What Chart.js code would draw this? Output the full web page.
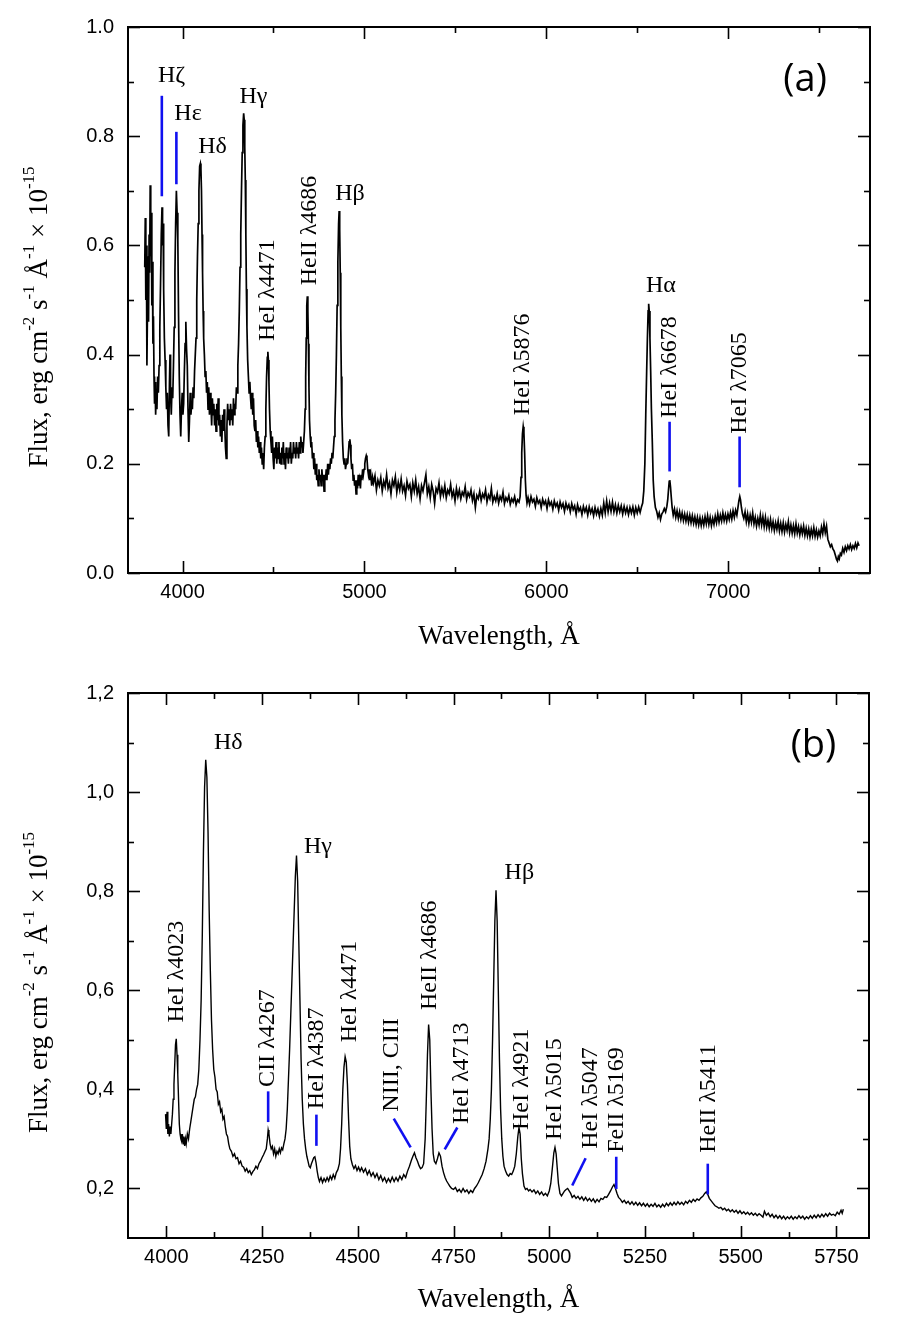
<!DOCTYPE html>
<html><head><meta charset="utf-8">
<script src="https://cdn.jsdelivr.net/npm/chart.js@4.4.1/dist/chart.umd.min.js"></script>
<style>
html,body{margin:0;padding:0;background:#fff;}
#wrap{position:relative;width:906px;height:1334px;background:#fff;}
canvas{position:absolute;left:0;}
#ca{top:0;}
#cb{top:667px;}
</style></head><body>
<div id="wrap"><canvas id="ca" width="906" height="667"></canvas><canvas id="cb" width="906" height="667"></canvas></div>
<script>
// ---------- DATA: panel (a) ----------
const spectrumA = [
[3792,0.56],[3795,0.65],[3798,0.50],[3801,0.60],[3804,0.38],[3807,0.48],[3810,0.58],[3813,0.46],[3816,0.62],[3819,0.55],[3822,0.71],[3825,0.58],[3828,0.66],[3831,0.49],[3834,0.57],[3837,0.42],[3840,0.47],[3843,0.36],[3846,0.31],[3849,0.35],[3852,0.29],[3855,0.33],[3859,0.30],[3863,0.36],[3867,0.33],[3871,0.38],[3875,0.45],[3879,0.53],[3883,0.62],[3887,0.67],[3890,0.60],[3893,0.64],[3896,0.52],[3900,0.43],[3904,0.39],[3908,0.34],[3912,0.30],[3916,0.33],[3920,0.27],[3924,0.25],[3928,0.35],[3931,0.40],[3934,0.33],[3938,0.29],[3942,0.34],[3946,0.32],[3950,0.38],[3954,0.45],[3958,0.55],[3962,0.64],[3966,0.70],[3970,0.66],[3974,0.61],[3978,0.47],[3982,0.36],[3986,0.29],[3990,0.25],[3994,0.30],[3998,0.33],[4002,0.29],[4006,0.31],[4010,0.37],[4014,0.42],[4018,0.46],[4022,0.41],[4026,0.38],[4030,0.30],[4034,0.24],[4038,0.28],[4042,0.33],[4046,0.29],[4050,0.31],[4054,0.30],[4058,0.34],[4062,0.32],[4066,0.37],[4070,0.40],[4074,0.43],[4078,0.50],[4082,0.58],[4086,0.64],[4090,0.70],[4094,0.745],[4098,0.75],[4101,0.74],[4104,0.70],[4107,0.62],[4110,0.55],[4113,0.48],[4116,0.43],[4120,0.40],[4124,0.36],[4128,0.37],[4132,0.33],[4136,0.35],[4140,0.30],[4144,0.34],[4148,0.29],[4152,0.33],[4156,0.31],[4160,0.27],[4164,0.32],[4168,0.29],[4172,0.31],[4176,0.27],[4180,0.30],[4184,0.26],[4188,0.31],[4192,0.28],[4196,0.32],[4200,0.27],[4204,0.29],[4208,0.25],[4212,0.28],[4216,0.24],[4220,0.29],[4224,0.26],[4228,0.30],[4232,0.27],[4236,0.23],[4240,0.21],[4244,0.27],[4248,0.31],[4252,0.28],[4256,0.30],[4260,0.27],[4264,0.31],[4268,0.28],[4272,0.30],[4276,0.27],[4280,0.32],[4284,0.29],[4288,0.31],[4292,0.30],[4296,0.34],[4300,0.33],[4304,0.38],[4308,0.42],[4312,0.48],[4316,0.56],[4320,0.62],[4324,0.70],[4328,0.77],[4332,0.82],[4336,0.842],[4339,0.83],[4342,0.78],[4345,0.72],[4348,0.62],[4351,0.52],[4354,0.45],[4358,0.39],[4362,0.36],[4366,0.33],[4370,0.35],[4374,0.32],[4378,0.30],[4382,0.33],[4386,0.29],[4390,0.32],[4394,0.27],[4398,0.26],[4402,0.28],[4406,0.24],[4410,0.26],[4414,0.23],[4418,0.25],[4422,0.22],[4426,0.24],[4430,0.21],[4434,0.23],[4438,0.20],[4442,0.22],[4446,0.19],[4450,0.23],[4454,0.25],[4458,0.30],[4462,0.36],[4466,0.395],[4469,0.405],[4472,0.39],[4475,0.35],[4478,0.30],[4482,0.26],[4486,0.24],[4490,0.22],[4494,0.25],[4498,0.21],[4502,0.19],[4506,0.23],[4510,0.21],[4514,0.24],[4518,0.20],[4522,0.23],[4526,0.21],[4530,0.24],[4534,0.20],[4538,0.22],[4542,0.20],[4546,0.23],[4550,0.21],[4554,0.24],[4558,0.20],[4562,0.22],[4566,0.19],[4570,0.23],[4574,0.21],[4578,0.22],[4582,0.20],[4586,0.23],[4590,0.21],[4594,0.24],[4598,0.20],[4602,0.22],[4606,0.21],[4610,0.24],[4614,0.22],[4618,0.23],[4622,0.21],[4626,0.24],[4630,0.22],[4634,0.23],[4638,0.21],[4642,0.24],[4646,0.22],[4650,0.25],[4654,0.23],[4658,0.24],[4662,0.22],[4666,0.24],[4670,0.26],[4674,0.30],[4677,0.36],[4680,0.43],[4683,0.49],[4686,0.507],[4689,0.48],[4692,0.42],[4695,0.34],[4698,0.28],[4702,0.25],[4706,0.23],[4710,0.24],[4714,0.21],[4718,0.22],[4722,0.19],[4726,0.21],[4730,0.18],[4734,0.20],[4738,0.17],[4742,0.18],[4746,0.16],[4750,0.19],[4754,0.17],[4758,0.18],[4762,0.16],[4766,0.19],[4770,0.17],[4774,0.18],[4778,0.15],[4782,0.18],[4786,0.17],[4790,0.19],[4794,0.17],[4798,0.20],[4802,0.18],[4806,0.20],[4810,0.19],[4814,0.21],[4818,0.20],[4822,0.22],[4826,0.21],[4830,0.23],[4834,0.25],[4838,0.28],[4842,0.33],[4846,0.40],[4850,0.49],[4854,0.57],[4858,0.64],[4861,0.663],[4864,0.63],[4867,0.55],[4870,0.45],[4873,0.36],[4876,0.29],[4880,0.24],[4884,0.21],[4888,0.20],[4892,0.21],[4896,0.19],[4900,0.20],[4904,0.21],[4908,0.20],[4912,0.22],[4916,0.24],[4920,0.245],[4923,0.235],[4926,0.21],[4930,0.19],[4934,0.20],[4938,0.17],[4942,0.18],[4946,0.16],[4950,0.17],[4954,0.145],[4958,0.17],[4962,0.155],[4966,0.18],[4970,0.16],[4974,0.17],[4978,0.155],[4982,0.18],[4986,0.17],[4990,0.19],[4994,0.18],[4998,0.19],[5002,0.20],[5006,0.21],[5010,0.215],[5014,0.21],[5018,0.19],[5022,0.18],[5026,0.19],[5030,0.17],[5035,0.18],[5040,0.16],[5045,0.175],[5050,0.165],
[5058,0.178],[5066,0.152],[5074,0.17],[5082,0.16],[5090,0.175],[5098,0.15],[5106,0.168],[5114,0.158],[5122,0.18],[5130,0.155],[5138,0.165],[5146,0.145],[5154,0.17],[5162,0.16],[5170,0.176],[5178,0.148],[5186,0.166],[5194,0.152],[5202,0.172],[5210,0.15],[5218,0.16],[5226,0.142],[5234,0.168],[5242,0.155],[5250,0.162],[5258,0.14],[5266,0.165],[5274,0.15],[5282,0.17],[5290,0.145],[5298,0.158],[5306,0.136],[5314,0.16],[5322,0.15],[5330,0.165],[5338,0.18],[5346,0.145],[5354,0.158],[5362,0.138],[5370,0.162],[5378,0.15],[5386,0.128],[5394,0.155],[5402,0.148],[5410,0.165],[5418,0.14],[5426,0.155],[5434,0.143],[5442,0.16],[5450,0.138],[5458,0.152],[5466,0.145],[5474,0.162],[5482,0.14],[5490,0.15],[5498,0.132],[5506,0.155],[5514,0.14],[5522,0.152],[5530,0.136],[5538,0.148],[5546,0.142],[5554,0.158],[5562,0.135],[5570,0.147],[5578,0.14],[5586,0.152],[5594,0.133],[5602,0.145],[5610,0.12],[5618,0.142],[5626,0.136],[5634,0.15],[5642,0.133],[5650,0.145],[5658,0.138],[5666,0.152],[5674,0.13],[5682,0.143],[5690,0.136],[5698,0.155],[5706,0.13],[5714,0.14],[5722,0.132],[5730,0.145],[5738,0.128],[5746,0.14],[5754,0.133],[5762,0.148],[5770,0.127],[5778,0.138],[5786,0.132],[5794,0.142],[5802,0.126],[5810,0.136],[5818,0.13],[5826,0.14],[5834,0.125],[5842,0.134],[5850,0.13],[5856,0.14],[5861,0.175],[5865,0.22],[5869,0.255],[5873,0.268],[5877,0.257],[5881,0.22],[5885,0.17],[5889,0.142],[5894,0.128],
[5900,0.138],[5908,0.126],[5916,0.14],[5924,0.13],[5932,0.135],[5940,0.122],[5948,0.138],[5956,0.128],[5964,0.133],[5972,0.12],[5980,0.135],[5988,0.126],[5996,0.132],[6004,0.118],[6012,0.134],[6020,0.124],[6028,0.13],[6036,0.117],[6044,0.132],[6052,0.122],[6060,0.128],[6068,0.115],[6076,0.13],[6084,0.12],[6092,0.127],[6100,0.113],[6108,0.128],[6116,0.118],[6124,0.125],[6132,0.112],[6140,0.127],[6148,0.116],[6156,0.123],[6164,0.108],[6172,0.125],[6180,0.114],[6188,0.12],[6196,0.107],[6204,0.122],[6212,0.112],[6220,0.12],[6228,0.106],[6236,0.121],[6244,0.11],[6252,0.118],[6260,0.105],[6268,0.12],[6276,0.108],[6284,0.117],[6292,0.104],[6300,0.118],[6308,0.106],[6316,0.128],[6324,0.11],[6332,0.132],[6340,0.112],[6348,0.128],[6356,0.113],[6364,0.13],[6372,0.112],[6380,0.125],[6388,0.11],[6396,0.124],[6404,0.112],[6412,0.123],[6420,0.108],[6428,0.122],[6436,0.11],[6444,0.12],[6452,0.107],[6460,0.12],[6468,0.11],[6476,0.121],[6484,0.106],[6492,0.12],[6500,0.11],[6508,0.121],[6516,0.111],[6524,0.122],[6530,0.128],[6536,0.15],[6542,0.20],[6547,0.29],[6552,0.37],[6556,0.43],[6560,0.48],[6563,0.493],[6566,0.48],[6570,0.43],[6574,0.37],[6578,0.30],[6583,0.24],[6588,0.17],[6593,0.14],[6600,0.12],[6607,0.113],[6614,0.102],[6621,0.11],[6628,0.098],[6635,0.108],[6642,0.112],[6649,0.118],[6656,0.112],[6663,0.122],[6668,0.135],[6672,0.152],[6676,0.168],[6679,0.17],[6683,0.158],[6687,0.14],[6692,0.12],[6698,0.106],[6705,0.117],[6712,0.102],[6719,0.114],[6726,0.1],[6733,0.112],[6740,0.098],[6747,0.11],[6754,0.096],[6761,0.108],[6768,0.095],[6775,0.107],[6782,0.093],[6789,0.106],[6796,0.092],[6803,0.105],[6810,0.091],[6817,0.103],[6824,0.089],[6831,0.102],[6838,0.088],[6845,0.101],[6852,0.087],[6859,0.1],[6866,0.088],[6873,0.103],[6880,0.09],[6887,0.105],[6894,0.089],[6901,0.102],[6908,0.087],[6915,0.1],[6922,0.089],[6929,0.104],[6936,0.092],[6943,0.108],[6950,0.093],[6957,0.106],[6964,0.095],[6971,0.11],[6978,0.096],[6985,0.107],[6992,0.095],[6999,0.108],[7006,0.098],[7013,0.111],[7020,0.099],[7027,0.114],[7034,0.102],[7041,0.115],[7048,0.106],[7054,0.12],[7059,0.132],[7064,0.14],[7068,0.134],[7073,0.12],[7079,0.108],[7086,0.1],[7093,0.112],[7100,0.094],[7107,0.108],[7114,0.091],[7121,0.106],[7128,0.093],[7135,0.11],[7142,0.09],[7149,0.102],[7156,0.086],[7163,0.1],[7170,0.088],[7177,0.106],[7184,0.088],[7191,0.103],[7198,0.085],[7205,0.102],[7212,0.084],[7219,0.097],[7226,0.082],[7233,0.098],[7240,0.081],[7247,0.094],[7254,0.078],[7261,0.092],[7268,0.08],[7275,0.095],[7282,0.077],[7289,0.091],[7296,0.076],[7303,0.092],[7310,0.075],[7317,0.089],[7324,0.078],[7331,0.094],[7338,0.074],[7345,0.088],[7352,0.073],[7359,0.087],[7366,0.072],[7373,0.09],[7380,0.073],[7387,0.085],[7394,0.07],[7401,0.084],[7408,0.072],[7415,0.086],[7422,0.069],[7429,0.082],[7436,0.068],[7443,0.081],[7450,0.066],[7457,0.08],[7464,0.068],[7471,0.083],[7478,0.067],[7485,0.079],[7492,0.066],[7499,0.077],[7506,0.068],[7513,0.084],[7520,0.072],[7527,0.09],[7534,0.074],[7541,0.086],[7548,0.062],[7555,0.055],[7562,0.048],[7569,0.052],[7576,0.044],[7583,0.04],[7590,0.032],[7596,0.025],[7601,0.022],[7606,0.03],[7611,0.026],[7617,0.036],[7623,0.033],[7630,0.045],[7637,0.038],[7644,0.048],[7651,0.041],[7658,0.05],[7665,0.044],[7672,0.052],[7679,0.043],[7686,0.05],[7693,0.045],[7700,0.054],[7707,0.046],[7714,0.055],[7720,0.05]
];
const xTicksA = [4000, 5000, 6000, 7000];
const xTickLabelsA = ['4000', '5000', '6000', '7000'];
const xMinorA = [4500, 5500, 6500, 7500];
const yTicksA = [0.0, 0.2, 0.4, 0.6, 0.8, 1.0];
const yTickLabelsA = ['0.0', '0.2', '0.4', '0.6', '0.8', '1.0'];
const yMinorA = [0.1, 0.3, 0.5, 0.7, 0.9];
const lineNamesA = [['Hζ',3940,0.910],['Hε',4030,0.842],['Hδ',4165,0.78],['Hγ',4390,0.872],['Hβ',4921,0.694],['Hα',6630,0.526]];
const lineLabelsA = [['HeI λ4471',4470,0.425],['HeII λ4686',4701,0.527],['HeI λ5876',5872,0.289],['HeI λ6678',6680,0.284],['HeI λ7065',7062,0.255]];
const markersA = [[3886,0.69,3886,0.874],[3966,0.712,3966,0.808],[6678,0.186,6678,0.277],[7063,0.157,7063,0.25]];

// ---------- DATA: panel (b) ----------
const spectrumB = [
[3998,0.35],[4000,0.32],[4002,0.355],[4004,0.31],[4006,0.33],[4008,0.305],[4010,0.325],[4012,0.31],[4014,0.33],[4016,0.35],[4018,0.38],[4020,0.41],[4022,0.45],[4024,0.49],[4026,0.502],[4028,0.47],[4030,0.43],[4032,0.38],[4034,0.33],[4036,0.31],[4038,0.30],[4040,0.295],[4042,0.31],[4044,0.29],[4046,0.305],[4048,0.286],[4050,0.30],[4052,0.29],[4055,0.31],[4058,0.30],[4061,0.32],[4064,0.335],[4067,0.35],[4070,0.365],[4073,0.38],[4076,0.385],[4079,0.40],[4082,0.41],[4085,0.44],[4088,0.50],[4091,0.58],[4094,0.71],[4097,0.88],[4100,1.01],[4103,1.065],[4106,1.03],[4109,0.92],[4112,0.76],[4115,0.64],[4118,0.54],[4121,0.48],[4124,0.44],[4127,0.425],[4130,0.40],[4133,0.395],[4136,0.37],[4139,0.375],[4142,0.355],[4145,0.36],[4148,0.34],[4151,0.345],[4154,0.325],[4157,0.31],[4160,0.305],[4163,0.29],[4166,0.28],[4170,0.275],[4174,0.265],[4178,0.27],[4182,0.26],[4186,0.262],[4190,0.25],[4194,0.255],[4198,0.245],[4202,0.243],[4206,0.235],[4210,0.24],[4214,0.232],[4218,0.236],[4222,0.228],[4226,0.234],[4230,0.238],[4234,0.245],[4238,0.24],[4242,0.25],[4246,0.255],[4250,0.262],[4254,0.268],[4258,0.275],[4261,0.28],[4264,0.30],[4266,0.318],[4268,0.31],[4271,0.29],[4274,0.28],[4277,0.285],[4280,0.27],[4283,0.28],[4286,0.265],[4289,0.275],[4292,0.27],[4295,0.28],[4298,0.272],[4301,0.282],[4304,0.278],[4307,0.29],[4310,0.30],[4313,0.32],[4316,0.36],[4319,0.42],[4322,0.48],[4325,0.55],[4328,0.62],[4331,0.69],[4334,0.76],[4337,0.83],[4340,0.872],[4343,0.82],[4346,0.70],[4349,0.58],[4352,0.46],[4355,0.38],[4358,0.33],[4361,0.30],[4364,0.28],[4367,0.265],[4370,0.255],[4373,0.245],[4376,0.242],[4379,0.25],[4382,0.256],[4385,0.262],[4388,0.264],[4391,0.252],[4394,0.235],[4397,0.222],[4400,0.214],[4404,0.222],[4408,0.212],[4412,0.22],[4416,0.214],[4420,0.222],[4424,0.215],[4428,0.225],[4432,0.218],[4436,0.228],[4440,0.22],[4444,0.232],[4448,0.238],[4452,0.25],[4455,0.28],[4458,0.33],[4461,0.40],[4464,0.445],[4467,0.466],[4470,0.455],[4473,0.41],[4476,0.34],[4479,0.285],[4482,0.26],[4486,0.248],[4490,0.24],[4494,0.246],[4498,0.236],[4502,0.243],[4506,0.235],[4510,0.242],[4515,0.233],[4520,0.24],[4525,0.228],[4530,0.236],[4535,0.225],[4540,0.232],[4545,0.222],[4550,0.23],[4555,0.218],[4560,0.226],[4565,0.215],[4570,0.222],[4575,0.212],[4580,0.22],[4585,0.213],[4590,0.223],[4595,0.214],[4600,0.222],[4605,0.215],[4610,0.225],[4615,0.218],[4620,0.228],[4625,0.222],[4630,0.235],[4635,0.245],[4640,0.257],[4644,0.265],[4648,0.272],[4652,0.262],[4656,0.255],[4660,0.246],[4664,0.24],[4668,0.242],[4672,0.25],[4676,0.30],[4679,0.38],[4682,0.47],[4685,0.531],[4688,0.50],[4691,0.40],[4694,0.32],[4697,0.27],[4700,0.255],[4704,0.25],[4708,0.26],[4712,0.272],[4716,0.265],[4720,0.245],[4724,0.232],[4728,0.222],[4732,0.215],[4736,0.21],[4740,0.205],[4745,0.2],[4750,0.198],[4755,0.202],[4760,0.194],[4765,0.198],[4770,0.192],[4775,0.2],[4780,0.193],[4785,0.197],[4790,0.19],[4795,0.196],[4800,0.192],[4805,0.2],[4810,0.205],[4815,0.212],[4820,0.22],[4825,0.228],[4830,0.24],[4835,0.255],[4840,0.28],[4843,0.30],[4846,0.34],[4849,0.40],[4852,0.50],[4855,0.62],[4858,0.74],[4861,0.802],[4864,0.74],[4867,0.60],[4870,0.46],[4873,0.36],[4876,0.30],[4879,0.265],[4882,0.245],[4886,0.235],[4890,0.228],[4894,0.225],[4898,0.23],[4902,0.228],[4906,0.235],[4910,0.245],[4914,0.27],[4918,0.305],[4921,0.323],[4924,0.31],[4927,0.26],[4930,0.23],[4934,0.205],[4938,0.198],[4942,0.2],[4946,0.195],[4950,0.198],[4955,0.193],[4960,0.197],[4965,0.19],[4970,0.195],[4975,0.188],[4980,0.193],[4985,0.186],[4990,0.19],[4995,0.185],[5000,0.195],[5004,0.21],[5008,0.24],[5012,0.272],[5015,0.283],[5018,0.27],[5021,0.24],[5024,0.21],[5028,0.19],[5032,0.185],[5036,0.19],[5040,0.195],[5044,0.198],[5048,0.2],[5052,0.195],[5056,0.19],[5060,0.182],[5065,0.186],[5070,0.18],[5075,0.184],[5080,0.178],[5085,0.183],[5090,0.176],[5095,0.182],[5100,0.175],[5105,0.18],[5110,0.174],[5115,0.179],[5120,0.172],[5125,0.178],[5130,0.173],[5135,0.18],[5140,0.178],[5145,0.183],[5150,0.182],[5155,0.188],[5160,0.195],[5165,0.203],[5169,0.208],[5173,0.2],[5177,0.19],[5181,0.182],[5186,0.178],[5191,0.172],[5196,0.176],[5201,0.17],[5206,0.174],[5211,0.168],[5216,0.173],[5221,0.167],[5226,0.172],[5231,0.166],[5236,0.171],[5241,0.165],[5246,0.17],[5251,0.164],[5256,0.169],[5261,0.163],[5266,0.168],[5271,0.164],[5276,0.17],[5281,0.163],[5286,0.167],[5291,0.162],[5296,0.168],[5301,0.163],[5306,0.17],[5311,0.165],[5316,0.171],[5321,0.166],[5326,0.172],[5331,0.167],[5336,0.173],[5341,0.168],[5346,0.172],[5351,0.167],[5356,0.174],[5361,0.17],[5366,0.176],[5371,0.172],[5376,0.178],[5381,0.174],[5386,0.179],[5391,0.176],[5396,0.181],[5401,0.184],[5406,0.19],[5410,0.193],[5414,0.188],[5418,0.18],[5423,0.175],[5428,0.17],[5433,0.165],[5438,0.163],[5443,0.16],[5448,0.162],[5453,0.157],[5458,0.16],[5463,0.155],[5468,0.158],[5473,0.153],[5478,0.157],[5483,0.152],[5488,0.156],[5493,0.15],[5498,0.155],[5503,0.149],[5508,0.153],[5513,0.148],[5518,0.152],[5523,0.147],[5528,0.151],[5533,0.146],[5538,0.15],[5543,0.145],[5548,0.149],[5553,0.146],[5558,0.142],[5562,0.154],[5567,0.146],[5572,0.15],[5577,0.143],[5582,0.148],[5587,0.141],[5592,0.146],[5597,0.14],[5602,0.145],[5607,0.139],[5612,0.144],[5617,0.138],[5622,0.143],[5627,0.139],[5632,0.144],[5637,0.138],[5642,0.143],[5647,0.139],[5652,0.145],[5657,0.14],[5662,0.144],[5667,0.138],[5672,0.143],[5677,0.139],[5682,0.145],[5687,0.14],[5692,0.146],[5697,0.141],[5702,0.147],[5707,0.142],[5712,0.148],[5717,0.143],[5722,0.149],[5727,0.144],[5732,0.15],[5737,0.146],[5742,0.148],[5747,0.145],[5752,0.152],[5757,0.148],[5762,0.156],[5765,0.15],[5768,0.158]
];
const xTicksB = [4000, 4250, 4500, 4750, 5000, 5250, 5500, 5750];
const xTickLabelsB = ['4000', '4250', '4500', '4750', '5000', '5250', '5500', '5750'];
const xMinorB = [4125, 4375, 4625, 4875, 5125, 5375, 5625];
const yTicksB = [0.2, 0.4, 0.6, 0.8, 1.0, 1.2];
const yTickLabelsB = ['0,2', '0,4', '0,6', '0,8', '1,0', '1,2'];
const yMinorB = [0.3, 0.5, 0.7, 0.9, 1.1];
const lineNamesB = [['Hδ',4162,1.1],['Hγ',4396,0.89],['Hβ',4922,0.838]];
const lineLabelsB = [['HeI λ4023',4026,0.535],['CII λ4267',4265,0.405],['HeI λ4387',4394,0.36],['HeI λ4471',4480,0.495],['NIII, CIII',4589,0.355],['HeII λ4686',4687,0.56],['HeI λ4713',4771,0.33],['HeI λ4921',4928,0.318],['HeI λ5015',5013,0.298],['HeI λ5047',5107,0.28],['FeII λ5169',5177,0.272],['HeII λ5411',5417,0.272]];
const markersB = [[4266,0.334,4266,0.396],[4392,0.286,4392,0.349],[4594,0.341,4638,0.283],[4760,0.323,4727,0.279],[5095,0.261,5060,0.206],[5175,0.199,5175,0.264],[5414,0.188,5414,0.25]];

// ---------- drawing ----------
const SERIF = '"Liberation Serif", "Times New Roman", serif';
const SANS = '"Liberation Sans", Arial, sans-serif';

function makePanelPlugin(cfg) {
  return {
    id: 'panelDecor',
    afterDraw(chart) {
      const ctx = chart.ctx, a = chart.chartArea, xs = chart.scales.x, ys = chart.scales.y;
      ctx.save();
      const seg = (x1, y1, x2, y2) => { ctx.beginPath(); ctx.moveTo(x1, y1); ctx.lineTo(x2, y2); ctx.stroke(); };
      ctx.strokeStyle = '#000'; ctx.lineWidth = 1.6;
      const tickX = (vals, len) => vals.forEach(v => { const p = Math.round(xs.getPixelForValue(v)) + 0.5; seg(p, a.bottom, p, a.bottom - len); seg(p, a.top, p, a.top + len); });
      const tickY = (vals, len) => vals.forEach(v => { const p = Math.round(ys.getPixelForValue(v)) + 0.5; seg(a.left, p, a.left + len, p); seg(a.right, p, a.right - len, p); });
      tickX(cfg.xTicks, 12); tickX(cfg.xMinor, 6);
      tickY(cfg.yTicks, 12); tickY(cfg.yMinor, 6);
      ctx.lineWidth = 2;
      ctx.strokeRect(a.left, a.top, a.right - a.left, a.bottom - a.top);
      // blue markers
      ctx.strokeStyle = '#1010f0'; ctx.lineWidth = 2.6;
      cfg.markers.forEach(m => seg(xs.getPixelForValue(m[0]), ys.getPixelForValue(m[1]), xs.getPixelForValue(m[2]), ys.getPixelForValue(m[3])));
      // line names
      ctx.fillStyle = '#000';
      ctx.font = '24px ' + SERIF;
      ctx.textAlign = 'center'; ctx.textBaseline = 'middle';
      cfg.names.forEach(n => ctx.fillText(n[0], xs.getPixelForValue(n[1]), ys.getPixelForValue(n[2])));
      cfg.labels.forEach(n => {
        ctx.save();
        ctx.translate(xs.getPixelForValue(n[1]), ys.getPixelForValue(n[2]));
        ctx.rotate(-Math.PI / 2);
        ctx.textAlign = 'left'; ctx.textBaseline = 'middle';
        ctx.fillText(n[0], 0, 0);
        ctx.restore();
      });
      // panel tag
      ctx.font = '38px "Open Sans", "DejaVu Sans", sans-serif';
      ctx.textAlign = 'center'; ctx.textBaseline = 'middle';
      ctx.fillText(cfg.tag[0], xs.getPixelForValue(cfg.tag[1]), ys.getPixelForValue(cfg.tag[2]));
      // y title with superscripts
      const parts = [['Flux, erg cm', 0], ['-2', 1], [' s', 0], ['-1', 1], [' Å', 0], ['-1', 1], [' × 10', 0], ['-15', 1]];
      const big = '27px ' + SERIF, small = '17px ' + SERIF;
      let total = 0;
      parts.forEach(p => { ctx.font = p[1] ? small : big; total += ctx.measureText(p[0]).width; });
      ctx.save();
      ctx.translate(40, (a.top + a.bottom) / 2 + 17);
      ctx.rotate(-Math.PI / 2);
      ctx.textAlign = 'left'; ctx.textBaseline = 'middle';
      let cx = -total / 2;
      parts.forEach(p => { ctx.font = p[1] ? small : big; ctx.fillText(p[0], cx, p[1] ? -10 : 0); cx += ctx.measureText(p[0]).width; });
      ctx.restore();
      ctx.restore();
    }
  };
}

function makeChart(id, cfg) {
  const ctx = document.getElementById(id).getContext('2d');
  return new Chart(ctx, {
    type: 'line',
    data: { datasets: [{ data: cfg.spectrum.map(p => ({ x: p[0], y: p[1] })), borderColor: '#000', borderWidth: cfg.lw, pointRadius: 0, tension: 0, fill: false }] },
    options: {
      responsive: false, animation: false, devicePixelRatio: 1,
      layout: { padding: { top: cfg.top, right: cfg.right, left: 0, bottom: 0 } },
      plugins: { legend: { display: false }, tooltip: { enabled: false } },
      scales: {
        x: {
          type: 'linear', min: cfg.xmin, max: cfg.xmax,
          afterBuildTicks: s => { s.ticks = cfg.xTicks.map(v => ({ value: v })); },
          afterFit: s => { s.height = cfg.xh; },
          grid: { display: false, drawTicks: false }, border: { display: false },
          ticks: { color: '#000', font: { family: SANS, size: 20 }, padding: 7, maxRotation: 0, autoSkip: false,
                   callback: v => cfg.xLabels[cfg.xTicks.indexOf(v)] },
          title: { display: true, text: 'Wavelength, Å', color: '#000', font: { family: SERIF, size: 27 }, padding: { top: 0, bottom: cfg.tpad } }
        },
        y: {
          type: 'linear', min: cfg.ymin, max: cfg.ymax,
          afterBuildTicks: s => { s.ticks = cfg.yTicks.map(v => ({ value: v })); },
          afterFit: s => { s.width = 128; },
          grid: { display: false, drawTicks: false }, border: { display: false },
          ticks: { color: '#000', font: { family: SANS, size: 20 }, padding: 14, autoSkip: false,
                   callback: v => cfg.yLabels[cfg.yTicks.findIndex(t => Math.abs(t - v) < 1e-9)] }
        }
      }
    },
    plugins: [makePanelPlugin(cfg)]
  });
}

makeChart('ca', {
  spectrum: spectrumA, lw: 1.7, xmin: 3700, xmax: 7780, ymin: 0, ymax: 1.0,
  top: 27, right: 36, xh: 94, tpad: 14,
  xTicks: xTicksA, xLabels: xTickLabelsA, xMinor: xMinorA,
  yTicks: yTicksA, yLabels: yTickLabelsA, yMinor: yMinorA,
  names: lineNamesA, labels: lineLabelsA, markers: markersA, tag: ['(a)', 7423, 0.903]
});
makeChart('cb', {
  spectrum: spectrumB, lw: 1.4, xmin: 3900, xmax: 5835, ymin: 0.1, ymax: 1.2,
  top: 23, right: 37, xh: 96, tpad: 18,
  xTicks: xTicksB, xLabels: xTickLabelsB, xMinor: xMinorB,
  yTicks: yTicksB, yLabels: yTickLabelsB, yMinor: yMinorB,
  names: lineNamesB, labels: lineLabelsB, markers: markersB, tag: ['(b)', 5690, 1.093]
});
</script></body></html>
